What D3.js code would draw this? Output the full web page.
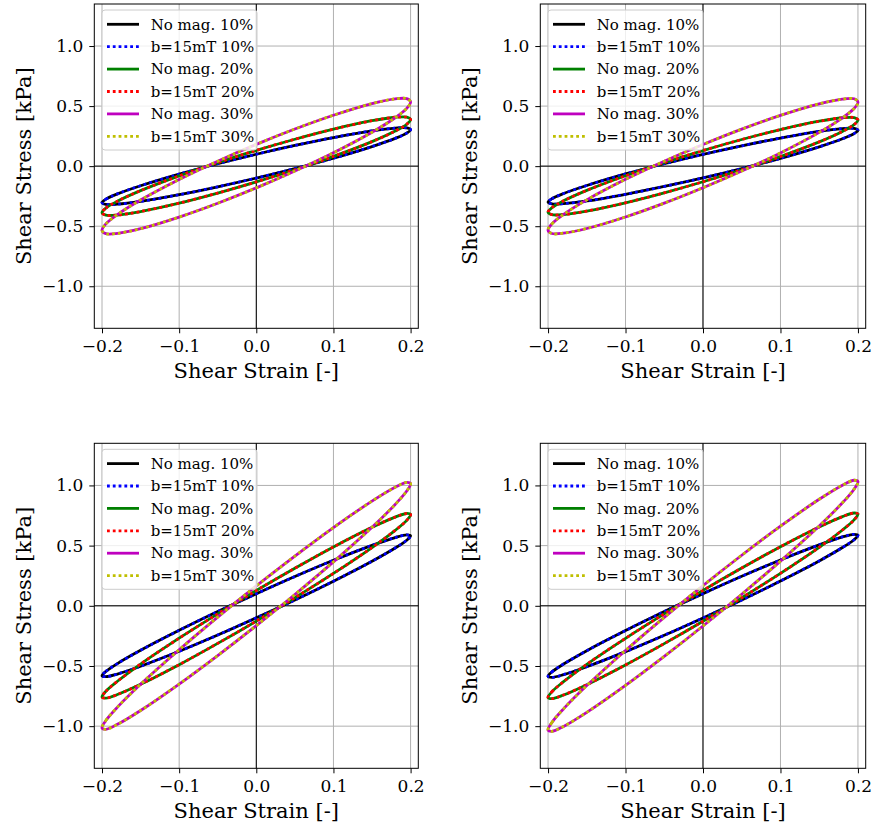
<!DOCTYPE html>
<html>
<head>
<meta charset="utf-8">
<script src="https://cdn.jsdelivr.net/npm/d3@7"></script>
<style>
  body { margin: 0; background: #fff; }
  svg { font-family: "DejaVu Serif", serif; }
</style>
</head>
<body>
<svg width="875" height="830"></svg>
<script>
// strain grid shared by every loop (upper branch and lower branch read at these x)
const strain = [-0.2, -0.195, -0.18, -0.15, -0.1, -0.05, 0, 0.05, 0.1, 0.15, 0.18, 0.195, 0.2];

const xTicks = [-0.2, -0.1, 0.0, 0.1, 0.2];
const yTicks = [-1.0, -0.5, 0.0, 0.5, 1.0];

const seriesLabels = ["No mag. 10%", "b=15mT 10%", "No mag. 20%", "b=15mT 20%", "No mag. 30%", "b=15mT 30%"];
const seriesColors = ["#000000", "#0000ff", "#008000", "#ff0000", "#bf00bf", "#bfbf00"];
const seriesDotted = [false, true, false, true, false, true];

// top left
const tlUp10 = [-0.304, -0.275, -0.231, -0.163, -0.066, 0.020, 0.099, 0.172, 0.238, 0.294, 0.317, 0.319, 0.304];
const tlLo10 = [-0.304, -0.319, -0.317, -0.294, -0.238, -0.172, -0.099, -0.020, 0.066, 0.163, 0.231, 0.275, 0.304];
const tlUp20 = [-0.388, -0.349, -0.292, -0.204, -0.081, 0.030, 0.131, 0.224, 0.308, 0.378, 0.407, 0.408, 0.388];
const tlLo20 = [-0.388, -0.408, -0.407, -0.378, -0.308, -0.224, -0.131, -0.030, 0.081, 0.204, 0.292, 0.349, 0.388];
const tlUp30 = [-0.535, -0.481, -0.403, -0.282, -0.111, 0.041, 0.181, 0.309, 0.424, 0.521, 0.560, 0.562, 0.535];
const tlLo30 = [-0.535, -0.562, -0.560, -0.521, -0.424, -0.309, -0.181, -0.041, 0.111, 0.282, 0.403, 0.481, 0.535];

// top right
const trUp10 = [-0.299, -0.271, -0.228, -0.161, -0.065, 0.020, 0.098, 0.169, 0.234, 0.290, 0.312, 0.314, 0.299];
const trLo10 = [-0.299, -0.314, -0.312, -0.290, -0.234, -0.169, -0.098, -0.020, 0.065, 0.161, 0.228, 0.271, 0.299];
const trUp20 = [-0.384, -0.346, -0.289, -0.202, -0.080, 0.030, 0.130, 0.222, 0.305, 0.374, 0.403, 0.404, 0.384];
const trLo20 = [-0.384, -0.404, -0.403, -0.374, -0.305, -0.222, -0.130, -0.030, 0.080, 0.202, 0.289, 0.346, 0.384];
const trUp30 = [-0.533, -0.480, -0.402, -0.281, -0.110, 0.041, 0.180, 0.308, 0.423, 0.519, 0.558, 0.561, 0.533];
const trLo30 = [-0.533, -0.561, -0.558, -0.519, -0.423, -0.308, -0.180, -0.041, 0.110, 0.281, 0.402, 0.480, 0.533];

// bottom left
const blUp10 = [-0.581, -0.545, -0.480, -0.370, -0.204, -0.048, 0.100, 0.243, 0.378, 0.502, 0.567, 0.589, 0.581];
const blLo10 = [-0.581, -0.589, -0.567, -0.502, -0.378, -0.243, -0.100, 0.048, 0.204, 0.370, 0.480, 0.545, 0.581];
const blUp20 = [-0.758, -0.710, -0.627, -0.484, -0.269, -0.067, 0.127, 0.312, 0.489, 0.652, 0.737, 0.767, 0.758];
const blLo20 = [-0.758, -0.767, -0.737, -0.652, -0.489, -0.312, -0.127, 0.067, 0.269, 0.484, 0.627, 0.710, 0.758];
const blUp30 = [-1.015, -0.953, -0.842, -0.652, -0.365, -0.094, 0.165, 0.413, 0.650, 0.870, 0.985, 1.026, 1.015];
const blLo30 = [-1.015, -1.026, -0.985, -0.870, -0.650, -0.413, -0.165, 0.094, 0.365, 0.652, 0.842, 0.953, 1.015];

// bottom right
const brUp10 = [-0.586, -0.549, -0.484, -0.373, -0.206, -0.048, 0.101, 0.245, 0.381, 0.506, 0.572, 0.594, 0.586];
const brLo10 = [-0.586, -0.594, -0.572, -0.506, -0.381, -0.245, -0.101, 0.048, 0.206, 0.373, 0.484, 0.549, 0.586];
const brUp20 = [-0.762, -0.714, -0.630, -0.486, -0.270, -0.067, 0.128, 0.314, 0.491, 0.655, 0.741, 0.771, 0.762];
const brLo20 = [-0.762, -0.771, -0.741, -0.655, -0.491, -0.314, -0.128, 0.067, 0.270, 0.486, 0.630, 0.714, 0.762];
const brUp30 = [-1.032, -0.969, -0.856, -0.663, -0.371, -0.096, 0.168, 0.420, 0.661, 0.885, 1.002, 1.043, 1.032];
const brLo30 = [-1.032, -1.043, -1.002, -0.885, -0.661, -0.420, -0.168, 0.096, 0.371, 0.663, 0.856, 0.969, 1.032];

let svg = d3.select("svg");

// panel frames (pixels) and their loops; the b=15mT curves read the same as no-mag ones
let panels = [
  { left: 94.3, top: 4, width: 324, height: 324.3, up: [tlUp10, tlUp10, tlUp20, tlUp20, tlUp30, tlUp30], lo: [tlLo10, tlLo10, tlLo20, tlLo20, tlLo30, tlLo30] },
  { left: 540.3, top: 4, width: 325.4, height: 324.3, up: [trUp10, trUp10, trUp20, trUp20, trUp30, trUp30], lo: [trLo10, trLo10, trLo20, trLo20, trLo30, trLo30] },
  { left: 94.3, top: 443.3, width: 324, height: 325, up: [blUp10, blUp10, blUp20, blUp20, blUp30, blUp30], lo: [blLo10, blLo10, blLo20, blLo20, blLo30, blLo30] },
  { left: 540.3, top: 443.3, width: 325.4, height: 325, up: [brUp10, brUp10, brUp20, brUp20, brUp30, brUp30], lo: [brLo10, brLo10, brLo20, brLo20, brLo30, brLo30] }
];

panels.forEach((p, pi) => {
  let g = svg.append("g").attr("transform", `translate(${p.left},${p.top})`);

  let x = d3.scaleLinear().domain([-0.21, 0.21]).range([0, p.width]);
  let y = d3.scaleLinear().domain([-1.35, 1.35]).range([p.height, 0]);

  g.append("defs").append("clipPath")
    .attr("id", "clip" + pi)
    .append("rect")
    .attr("width", p.width)
    .attr("height", p.height);

  // grid
  g.append("g").selectAll("line").data(xTicks).join("line")
    .attr("x1", d => x(d)).attr("x2", d => x(d))
    .attr("y1", 0).attr("y2", p.height)
    .attr("stroke", "#b0b0b0").attr("stroke-width", 1);
  g.append("g").selectAll("line").data(yTicks).join("line")
    .attr("y1", d => y(d)).attr("y2", d => y(d))
    .attr("x1", 0).attr("x2", p.width)
    .attr("stroke", "#b0b0b0").attr("stroke-width", 1);

  // zero lines
  g.append("line")
    .attr("x1", 0).attr("x2", p.width)
    .attr("y1", y(0)).attr("y2", y(0))
    .attr("stroke", "#000").attr("stroke-width", 1);
  g.append("line")
    .attr("x1", x(0)).attr("x2", x(0))
    .attr("y1", 0).attr("y2", p.height)
    .attr("stroke", "#000").attr("stroke-width", 1);

  let line = d3.line()
    .x(d => x(d[0]))
    .y(d => y(d[1]))
    .curve(d3.curveCatmullRomClosed);

  let plot = g.append("g").attr("clip-path", `url(#clip${pi})`);
  seriesLabels.forEach((lab, si) => {
    let upPts = strain.map((s, i) => [s, p.up[si][i]]);
    let loPts = strain.map((s, i) => [s, p.lo[si][i]]).slice(1, -1).reverse();
    plot.append("path")
      .datum(upPts.concat(loPts))
      .attr("d", line)
      .attr("fill", "none")
      .attr("stroke", seriesColors[si])
      .attr("stroke-width", 2.8)
      .attr("stroke-dasharray", seriesDotted[si] ? "2.8,3" : null);
  });

  // axes
  let ax = g.append("g")
    .attr("transform", `translate(0,${p.height})`)
    .call(d3.axisBottom(x).tickValues(xTicks).tickFormat(d3.format(".1f")).tickSize(5).tickPadding(7));
  let ay = g.append("g")
    .call(d3.axisLeft(y).tickValues(yTicks).tickFormat(d3.format(".1f")).tickSize(5).tickPadding(6));
  [ax, ay].forEach(a => {
    a.select(".domain").remove();
    a.selectAll(".tick line").attr("stroke", "#000").attr("stroke-width", 1);
    a.selectAll(".tick text")
      .attr("fill", "#000")
      .style("font-family", '"DejaVu Serif", serif')
      .style("font-size", "17px");
  });

  // frame
  g.append("rect")
    .attr("width", p.width).attr("height", p.height)
    .attr("fill", "none").attr("stroke", "#000").attr("stroke-width", 1);

  // axis labels
  g.append("text")
    .attr("x", p.width / 2).attr("y", p.height + 50)
    .attr("text-anchor", "middle")
    .style("font-size", "21px")
    .text("Shear Strain [-]");
  g.append("text")
    .attr("transform", `translate(-63,${p.height / 2}) rotate(-90)`)
    .attr("text-anchor", "middle")
    .style("font-size", "21px")
    .text("Shear Stress [kPa]");

  // legend
  let lg = g.append("g").attr("transform", "translate(7.7,6)");
  lg.append("rect")
    .attr("width", 155).attr("height", 140).attr("rx", 3)
    .attr("fill", "#fff").attr("fill-opacity", 0.8)
    .attr("stroke", "#cccccc").attr("stroke-width", 1);
  seriesLabels.forEach((lab, si) => {
    let ry = 14.3 + si * 22.4;
    lg.append("line")
      .attr("x1", 5).attr("x2", 37)
      .attr("y1", ry).attr("y2", ry)
      .attr("stroke", seriesColors[si])
      .attr("stroke-width", 2.8)
      .attr("stroke-dasharray", seriesDotted[si] ? "2.8,3" : null);
    lg.append("text")
      .attr("x", 48.7).attr("y", ry)
      .attr("dy", "0.35em")
      .style("font-size", "15px")
      .text(lab);
  });
});
</script>
</body>
</html>
